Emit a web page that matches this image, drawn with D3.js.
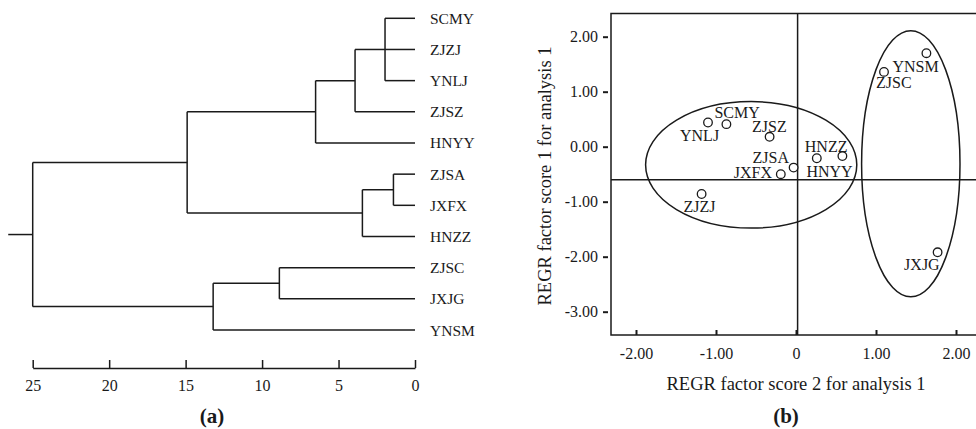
<!DOCTYPE html>
<html lang="en">
<head>
<meta charset="UTF-8">
<title>Cluster dendrogram and factor scores</title>
<script src="https://d3js.org/d3.v7.min.js"></script>
<style>
    body { margin: 0; background: #fff; }
    svg { display: block; font-family: "Liberation Serif", "DejaVu Serif", serif; }
    .ln { stroke: #1a1a1a; stroke-width: 1.5; fill: none; }
    text { fill: #1a1a1a; }
</style>
</head>
<body>
<svg id="fig" width="976" height="429"></svg>
<script>
// --- (a) dendrogram data: leaf order top to bottom, merges as [children, distance]
const leaves = ["SCMY", "ZJZJ", "YNLJ", "ZJSZ", "HNYY", "ZJSA", "JXFX", "HNZZ", "ZJSC", "JXJG", "YNSM"];
const merges = [
    { id: "m1", kids: ["SCMY", "ZJZJ", "YNLJ"], dist: 1.96 },
    { id: "m2", kids: ["m1", "ZJSZ"], dist: 3.92 },
    { id: "m3", kids: ["m2", "HNYY"], dist: 6.5 },
    { id: "m4", kids: ["ZJSA", "JXFX"], dist: 1.41 },
    { id: "m5", kids: ["m4", "HNZZ"], dist: 3.44 },
    { id: "m6", kids: ["m3", "m5"], dist: 14.9 },
    { id: "m7", kids: ["ZJSC", "JXJG"], dist: 8.87 },
    { id: "m8", kids: ["m7", "YNSM"], dist: 13.2 },
    { id: "m9", kids: ["m6", "m8"], dist: 25 }
];
const rootStub = 26.6;
const distTicks = [25, 20, 15, 10, 5, 0];

// --- (b) factor scores
const names = ["YNSM", "ZJSC", "SCMY", "YNLJ", "ZJSZ", "HNZZ", "HNYY", "ZJSA", "JXFX", "ZJZJ", "JXJG"];
const score2 = [1.63, 1.10, -0.87, -1.10, -0.33, 0.26, 0.58, -0.03, -0.19, -1.18, 1.77];
const score1 = [1.70, 1.36, 0.41, 0.44, 0.18, -0.21, -0.17, -0.38, -0.50, -0.86, -1.92];
// label offsets (px) from each point
const labelDx = [-34, -8, -12, -28, -17.5, -12, -36, -41, -47, -18, -33.5];
const labelDy = [18.5, 16.5, -6, 18, -5, -6.5, 20.5, -4.5, 3.5, 17.5, 17.5];
const xTicks = [-2, -1, 0, 1, 2];
const yTicks = [2, 1, 0, -1, -2, -3];
const refX = 0.02, refY = -0.6;
const groups = [
    { cx: -0.56, cy: -0.33, rx: 1.32, ry: 1.15 },
    { cx: 1.435, cy: -0.31, rx: 0.615, ry: 2.42 }
];

const svg = d3.select("#fig");
const fmt2 = d => d3.format(".2f")(d).replace("\u2212", "-");

// ===== (a) =====
const xa = d3.scaleLinear().domain([25, 0]).range([32.7, 415]);
const ya = d3.scalePoint().domain(leaves).range([18.3, 330]);

const pos = {};
leaves.forEach(l => pos[l] = { x: xa(0), y: ya(l) });
merges.forEach(m => {
    const ys = m.kids.map(k => pos[k].y);
    pos[m.id] = { x: xa(m.dist), y: d3.mean(ys) };
});

const ga = svg.append("g");
merges.forEach(m => {
    const p = pos[m.id];
    const ys = m.kids.map(k => pos[k].y);
    ga.append("line").attr("class", "ln")
        .attr("x1", p.x).attr("x2", p.x)
        .attr("y1", d3.min(ys)).attr("y2", d3.max(ys));
    m.kids.forEach(k => {
        ga.append("line").attr("class", "ln")
            .attr("x1", p.x).attr("x2", pos[k].x)
            .attr("y1", pos[k].y).attr("y2", pos[k].y);
    });
});
const root = pos["m9"];
ga.append("line").attr("class", "ln")
    .attr("x1", xa(rootStub)).attr("x2", root.x)
    .attr("y1", root.y).attr("y2", root.y);

ga.selectAll(".leaf").data(leaves).join("text")
    .attr("x", 430).attr("y", d => ya(d) + 5.5)
    .attr("font-size", 15.5).text(d => d);

const axA = ga.append("g").attr("transform", "translate(0,368)")
    .call(d3.axisBottom(xa).tickValues(distTicks).tickSize(0).tickPadding(12));
axA.select(".domain").attr("stroke", "#1a1a1a").attr("stroke-width", 1.5);
axA.selectAll(".tick").append("line")
    .attr("y1", 0).attr("y2", -8).attr("stroke", "#1a1a1a").attr("stroke-width", 1.5);
axA.selectAll(".tick text").attr("font-size", 16)
    .attr("font-family", "Liberation Serif").attr("fill", "#1a1a1a");

svg.append("text").attr("x", 212).attr("y", 423).attr("text-anchor", "middle")
    .attr("font-size", 21).attr("font-weight", "bold").text("(a)");

// ===== (b) =====
const xb = d3.scaleLinear().domain([-2, 2]).range([636, 956]);
const yb = d3.scaleLinear().domain([2, -3]).range([36.7, 311.7]);
const frame = { l: 611, t: 13.5, r: 990, b: 335 };

const gb = svg.append("g");
gb.append("rect").attr("class", "ln")
    .attr("x", frame.l).attr("y", frame.t)
    .attr("width", frame.r - frame.l).attr("height", frame.b - frame.t);

gb.append("line").attr("class", "ln").attr("stroke-width", 1.3)
    .attr("x1", xb(refX)).attr("x2", xb(refX)).attr("y1", frame.t).attr("y2", frame.b);
gb.append("line").attr("class", "ln").attr("stroke-width", 1.3)
    .attr("x1", frame.l).attr("x2", frame.r).attr("y1", yb(refY)).attr("y2", yb(refY));

const axX = gb.append("g").attr("transform", `translate(0,${frame.b})`)
    .call(d3.axisBottom(xb).tickValues(xTicks).tickSize(-5).tickPadding(13)
        .tickFormat(d => d === 0 ? "0" : fmt2(d)));
axX.select(".domain").remove();
const axY = gb.append("g").attr("transform", `translate(${frame.l},0)`)
    .call(d3.axisLeft(yb).tickValues(yTicks).tickSize(7).tickPadding(6)
        .tickFormat(fmt2));
axY.select(".domain").remove();
axY.selectAll(".tick line").attr("x2", -3).attr("x1", -8);
[axX, axY].forEach(a => {
    a.selectAll(".tick line").attr("stroke", "#1a1a1a").attr("stroke-width", 2);
    a.selectAll(".tick text").attr("font-size", 16)
        .attr("font-family", "Liberation Serif").attr("fill", "#1a1a1a");
});

groups.forEach(g => {
    gb.append("ellipse").attr("class", "ln").attr("stroke-width", 1.3)
        .attr("cx", xb(g.cx)).attr("cy", yb(g.cy))
        .attr("rx", xb(g.rx) - xb(0)).attr("ry", yb(0) - yb(g.ry));
});

const pts = names.map((n, i) => ({ n, x: score2[i], y: score1[i], dx: labelDx[i], dy: labelDy[i] }));
gb.selectAll(".pt").data(pts).join("circle")
    .attr("cx", d => xb(d.x)).attr("cy", d => yb(d.y)).attr("r", 4.3)
    .attr("fill", "#fff").attr("stroke", "#1a1a1a").attr("stroke-width", 1.3);
gb.selectAll(".lab").data(pts).join("text")
    .attr("x", d => xb(d.x) + d.dx).attr("y", d => yb(d.y) + d.dy)
    .attr("font-size", 16).text(d => d.n);

svg.append("text").attr("x", 796).attr("y", 390).attr("text-anchor", "middle")
    .attr("font-size", 18.5).text("REGR factor score 2 for analysis 1");
svg.append("text").attr("transform", "translate(551,176) rotate(-90)")
    .attr("text-anchor", "middle").attr("font-size", 18.5)
    .text("REGR factor score 1 for analysis 1");
svg.append("text").attr("x", 786).attr("y", 423).attr("text-anchor", "middle")
    .attr("font-size", 21).attr("font-weight", "bold").text("(b)");
</script>
</body>
</html>
